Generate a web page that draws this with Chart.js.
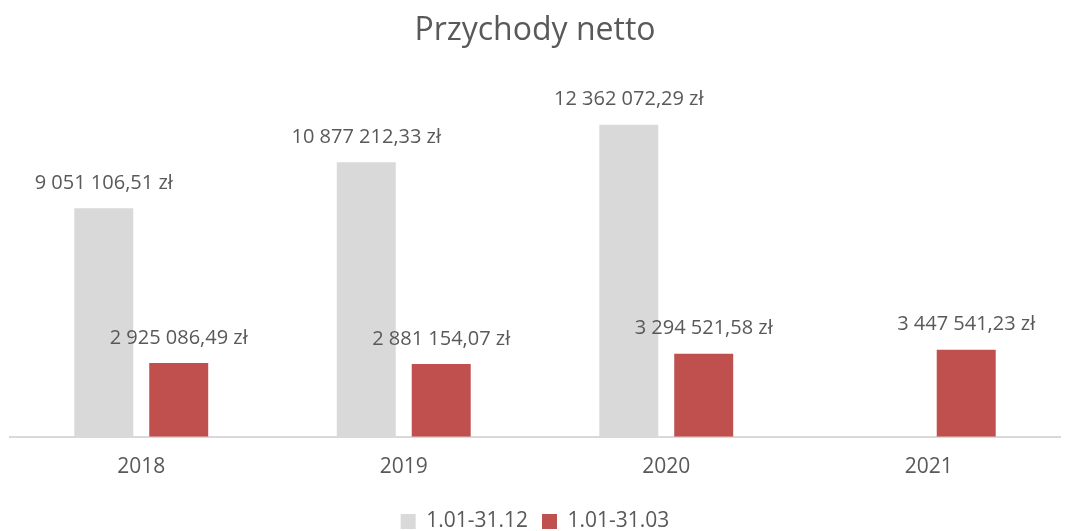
<!DOCTYPE html>
<html>
<head>
<meta charset="utf-8">
<script src="https://cdn.jsdelivr.net/npm/chart.js@4"></script>
<style>
  html, body { margin: 0; padding: 0; background: #fff; }
  #wrap { width: 1091px; height: 531px; }
</style>
</head>
<body>
<div id="wrap"><canvas id="chart" width="1091" height="531"></canvas></div>
<script>
const years = ['2018', '2019', '2020', '2021'];
const fullYear = [9051106.51, 10877212.33, 12362072.29, null];
const firstQuarter = [2925086.49, 2881154.07, 3294521.58, 3447541.23];
const seriesNames = ['1.01-31.12', '1.01-31.03'];

const textColor = '#595959';
const fontFamily = "'Open Sans', sans-serif";

// "9 051 106,51 zł"
function formatPln(v) {
  const parts = v.toFixed(2).split('.');
  const intPart = parts[0].replace(/\B(?=(\d{3})+(?!\d))/g, ' ');
  return intPart + ',' + parts[1] + ' zł';
}

const valueLabels = {
  id: 'valueLabels',
  afterDatasetsDraw(chart) {
    const { ctx } = chart;
    ctx.save();
    ctx.font = '20px ' + fontFamily;
    ctx.fillStyle = textColor;
    ctx.textAlign = 'center';
    ctx.textBaseline = 'middle';
    chart.data.datasets.forEach((ds, i) => {
      const meta = chart.getDatasetMeta(i);
      meta.data.forEach((bar, j) => {
        const v = ds.data[j];
        if (v == null) return;
        ctx.fillText(formatPln(v), bar.x, bar.y - 25);
      });
    });
    ctx.restore();
  }
};

const ctx = document.getElementById('chart');
const chart = new Chart(ctx, {
  type: 'bar',
  data: {
    labels: years,
    datasets: [
      {
        label: seriesNames[0],
        data: fullYear,
        backgroundColor: '#d9d9d9',
        categoryPercentage: 0.571,
        barPercentage: 0.787
      },
      {
        label: seriesNames[1],
        data: firstQuarter,
        backgroundColor: '#c0504d',
        categoryPercentage: 0.571,
        barPercentage: 0.787
      }
    ]
  },
  options: {
    responsive: false,
    animation: false,
    layout: { padding: { left: 10, right: 31, top: 12, bottom: -11 } },
    plugins: {
      title: {
        display: true,
        text: 'Przychody netto',
        color: textColor,
        font: { family: fontFamily, size: 32, weight: 'normal' },
        padding: { top: 0, bottom: 33 }
      },
      legend: {
        position: 'bottom',
        labels: {
          color: textColor,
          font: { family: fontFamily, size: 21 },
          boxWidth: 15,
          boxHeight: 15,
          padding: 14
        }
      },
      tooltip: { enabled: false }
    },
    scales: {
      x: {
        grid: { display: false, drawTicks: false },
        border: { display: true, color: '#d9d9d9', width: 2 },
        ticks: { color: textColor, font: { family: fontFamily, size: 21 }, padding: 17.5 }
      },
      y: {
        display: false,
        min: 0,
        max: 14000000
      }
    }
  },
  plugins: [valueLabels]
});
</script>
</body>
</html>
